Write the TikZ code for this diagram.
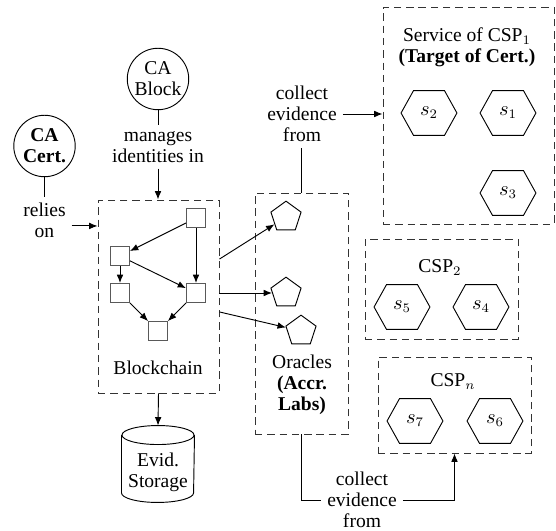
\documentclass[tikz,border=0pt]{standalone}
\usepackage{fontspec}
\setmainfont{Liberation Serif}
\usetikzlibrary{arrows.meta,shapes.geometric,fit}
\begin{document}
\begin{tikzpicture}[x=0.537pt,y=-0.537pt, >={Latex[length=4.5pt,width=3.6pt]}, line width=0.5pt,
 every node/.style={font=\fontsize{10.5}{11.3}\selectfont, align=center},
 dbox/.style={draw=black!80, dash pattern=on 4pt off 2.6pt, inner sep=0pt},
 circ/.style={draw, circle, minimum size=33pt, inner sep=0pt},
 blk/.style={draw=black!65, minimum size=10.2pt, inner sep=0pt},
 pent/.style={draw, regular polygon, regular polygon sides=5, minimum size=17pt, inner sep=0pt},
 hexa/.style={rectangle, minimum width=29.5pt, minimum height=23.6pt, inner sep=0pt},
 lbl/.style={inner sep=3pt},
]
\useasboundingbox (0,0) rectangle (556,531);

% dashed boxes
\node[dbox, fit={(98,200) (219,393)}] (bc) {};
\node[dbox, fit={(255,193) (348,434)}] (orc) {};
\node[dbox, fit={(383,7) (554,224)}] (csp1) {};
\node[dbox, fit={(365,239) (518,339)}] (csp2) {};
\node[dbox, fit={(378,357) (531,453)}] (cspn) {};

% CA circles
\node[circ] (cab) at (158,79) {CA\\Block};
\node[circ] (cac) at (44.5,146) {\textbf{CA}\\\textbf{Cert.}};

\node[lbl] (mng) at (158,147) {manages\\identities in};
\draw (cab) -- (mng);
\draw[->] (mng.south) -- (mng.south |- bc.north);

\node[lbl] (rel) at (44.5,220) {relies\\on};
\draw (cac) -- (rel);
\coordinate (r1) at ([yshift=-3.2pt]rel.east);
\draw[->] (r1) -- (r1 -| bc.west);

% blockchain blocks
\node[blk] (b1) at (196,218) {};
\node[blk] (b2) at (120,256) {};
\node[blk] (b3) at (120,293) {};
\node[blk] (b4) at (196,293) {};
\node[blk] (b5) at (158,331) {};
\draw[->] (b1) -- (b2);
\draw[->] (b1) -- (b4);
\draw[->] (b2) -- (b3);
\draw[->] (b2) -- (b4);
\draw[->] (b3) -- (b5);
\draw[->] (b4) -- (b5);
\node (bct) at (158,368) {Blockchain};

% storage (cylinder)
\node[minimum width=38.7pt, minimum height=40.8pt, inner sep=0pt, text depth=0pt] (st) at (158,464) {};
\node at ([yshift=-4.4pt]st.center) {Evid.\\Storage};
\draw ([yshift=-5.1pt]st.north) ellipse [x radius=19.35pt, y radius=5.1pt];
\draw ([yshift=-5.1pt]st.north west) -- ([yshift=5.1pt]st.south west)
  arc[start angle=180, end angle=360, x radius=19.35pt, y radius=5.1pt]
  -- ([yshift=-5.1pt]st.north east);
\draw[->] (bc.south) -- (st.north);

% oracles
\node[pent] (p1) at (286,217) {};
\node[pent] (p2) at (286,293) {};
\node[pent] (p3) at (301,331) {};
\node (orct) at (302,385) {Oracles\\\textbf{(Accr.}\\\textbf{Labs)}};
\draw[->] ([yshift=20.1pt]bc.east) -- (p1);
\draw[->] (bc.east |- p2) -- (p2);
\draw[->] ([yshift=-8.3pt]bc.east) -- (p3);

% collect evidence top
\node[lbl] (ce1) at (302,114) {collect\\evidence\\from};
\draw (orc.north) -- (orc.north |- ce1.south);
\draw[->] (ce1.east) -- (ce1.east -| csp1.west);

% collect evidence bottom
\node[lbl] (ce2) at (362,500) {collect\\evidence\\from};
\draw (orc.south) |- (ce2.west);
\draw[->] (ce2.east) -| (cspn.south);

% CSP1
\node (c1t) at (467,47) {Service of CSP$_1$\\\textbf{(Target of Cert.)}};
\node[hexa] (s2) at (429,113) {$s_2$};
\node[hexa] (s1) at (508,113) {$s_1$};
\node[hexa] (s3) at (508,193) {$s_3$};

% CSP2
\node (c2t) at (440,268) {CSP$_2$};
\node[hexa] (s5) at (402,307) {$s_5$};
\node[hexa] (s4) at (481,307) {$s_4$};

% CSPn
\node (cnt) at (453,382) {CSP$_n$};
\node[hexa] (s7) at (415,421) {$s_7$};
\node[hexa] (s6) at (495,421) {$s_6$};

\foreach \h in {s1,s2,s3,s4,s5,s6,s7}
  \draw ([xshift=6.7pt]\h.north west) -- ([xshift=-6.7pt]\h.north east) -- (\h.east)
    -- ([xshift=-6.7pt]\h.south east) -- ([xshift=6.7pt]\h.south west) -- (\h.west) -- cycle;
\end{tikzpicture}
\end{document}
